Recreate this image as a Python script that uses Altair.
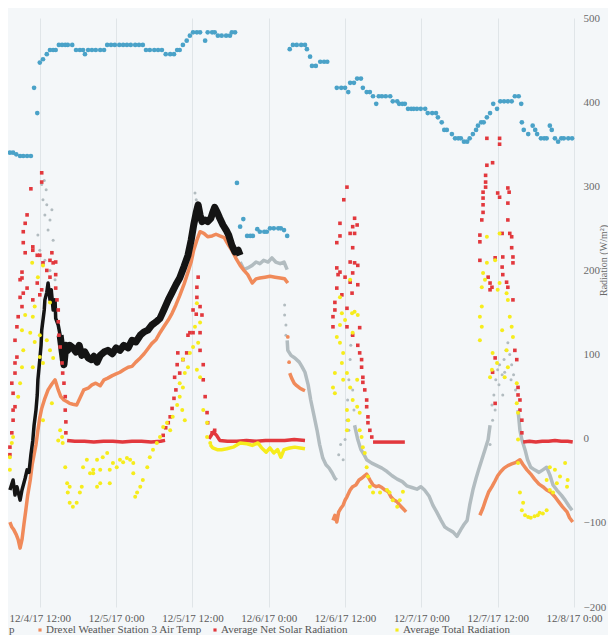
import altair as alt
import pandas as pd

BASE = pd.Timestamp("2017-12-04 00:00:00")

# ---- data: (hours since 12/4/17 0:00, W/m^2 on the right-hand axis) ----
BLUE = [
    (7.3, 340), (7.8, 340), (8.3, 338), (8.9, 336), (9.4, 336), (10.0, 336), (10.6, 336),
    (11.1, 417), (11.6, 387), (12.0, 447), (12.5, 451), (13.1, 457), (13.6, 462), (14.1, 462), (14.5, 462),
    (15.0, 468), (15.5, 468), (16.0, 468), (16.4, 468), (17.1, 468), (17.7, 462), (18.3, 462), (18.8, 462),
    (19.1, 457), (19.6, 462), (20.2, 462), (20.8, 462), (21.5, 462), (22.1, 462), (22.6, 468), (23.2, 468),
    (23.8, 468), (24.5, 468), (25.1, 468), (25.7, 468), (26.3, 468), (27.0, 468), (27.6, 468), (28.2, 468),
    (28.7, 462), (29.3, 462), (30.0, 462), (30.6, 462), (31.2, 462), (31.8, 457), (32.5, 457), (33.1, 457),
    (33.6, 462), (34.0, 462), (34.5, 468), (35.1, 473), (35.6, 479), (36.1, 483), (36.7, 483), (37.2, 483),
    (38.0, 473), (38.4, 483), (39.1, 483), (39.5, 483), (40.0, 479), (40.6, 479), (41.3, 479), (41.9, 479),
    (42.2, 483), (42.7, 483),
    (43.0, 304),
    (43.5, 252), (44.0, 261), (44.6, 241), (45.1, 241), (45.5, 241), (46.2, 249), (46.6, 246), (47.3, 246),
    (47.7, 246), (48.2, 250), (48.8, 250), (49.5, 250), (49.9, 250), (50.4, 248), (50.9, 241),
    (51.3, 463), (51.8, 468), (52.4, 468), (53.1, 468), (53.7, 468), (54.0, 463), (54.5, 454), (54.8, 443),
    (55.4, 443), (56.1, 448), (56.7, 448), (57.2, 448),
    (58.7, 417), (59.4, 417), (60.0, 417), (60.5, 412), (60.8, 423), (61.4, 423), (61.9, 428), (62.5, 428),
    (62.8, 417), (63.4, 412), (63.9, 412), (64.4, 407), (64.9, 398), (65.3, 407), (65.8, 407), (66.4, 407),
    (67.1, 407), (67.5, 401), (68.2, 401), (68.5, 398), (69.0, 398), (69.4, 398), (69.9, 392), (70.4, 392),
    (70.8, 392), (71.3, 392), (71.9, 392), (72.6, 392), (73.0, 387), (73.7, 387), (74.3, 387), (74.6, 382),
    (75.2, 376), (75.6, 367), (76.0, 367), (76.8, 362), (77.3, 357), (77.8, 357), (78.2, 357), (78.7, 353),
    (79.2, 353), (79.6, 357), (80.1, 362), (80.6, 367), (80.9, 372), (81.4, 376), (81.8, 376), (82.3, 382),
    (82.8, 387), (83.3, 398), (83.9, 392), (84.4, 401), (85.0, 401), (85.6, 401), (86.2, 401), (86.7, 407),
    (87.3, 407), (87.7, 398), (87.8, 376), (88.1, 367), (88.8, 362), (89.5, 372), (89.9, 367), (90.2, 362),
    (90.8, 357), (91.3, 357), (91.7, 357), (92.2, 372), (92.5, 367), (93.0, 357), (93.5, 353), (94.0, 357),
    (94.4, 357), (95.1, 357), (95.7, 357),
]

BLACK_RISE = [
    (7.3, -61), (7.8, -49), (8.1, -67), (8.4, -57), (8.9, -73), (9.2, -61), (9.7, -47), (10.0, -37),
    (10.3, -40), (10.6, -19), (10.9, -2), (11.1, 16), (11.4, 34), (11.6, 52), (11.7, 70), (12.0, 94),
    (12.2, 111), (12.3, 129), (12.7, 153), (12.8, 165), (13.1, 174), (13.3, 185), (13.6, 165), (13.8, 177),
    (14.1, 153), (14.4, 165), (14.5, 143), (14.9, 135), (15.2, 123),
]
BLACK_BAND = [
    (15.2, 123), (15.5, 105), (15.8, 88), (16.1, 111), (16.4, 105), (16.7, 111), (17.2, 108), (17.7, 103),
    (18.2, 111), (18.6, 99), (19.1, 103), (19.6, 96), (20.1, 94), (20.5, 98), (21.0, 91), (21.5, 99),
    (22.1, 103), (22.7, 105), (23.4, 101), (24.0, 108), (24.6, 105), (25.2, 111), (25.9, 108), (26.5, 117),
    (27.1, 115), (27.8, 123), (28.4, 127), (29.0, 129), (29.6, 135), (30.3, 139), (30.9, 143), (31.5, 153),
    (32.2, 165), (32.8, 174), (33.4, 183), (34.0, 191), (34.7, 205), (35.3, 218), (35.8, 236), (36.2, 254),
    (36.6, 269), (36.9, 278), (37.2, 266), (37.5, 258), (38.0, 260), (38.4, 258), (38.9, 262), (39.2, 269),
    (39.5, 275), (39.9, 269), (40.3, 262), (40.8, 254), (41.3, 248), (41.7, 242), (42.2, 230), (42.7, 222),
    (43.2, 224), (43.5, 218),
]

ORANGE_SEGMENTS = [
    [(7.3, -99), (7.6, -105), (7.9, -108), (8.3, -114), (8.6, -120), (8.9, -130), (9.2, -120), (9.5, -102),
     (9.8, -85), (10.1, -67), (10.5, -49), (10.8, -31), (11.1, -19), (11.4, -7), (11.7, 10), (12.0, 25),
     (12.3, 36), (12.8, 48), (13.3, 58), (13.9, 65), (14.4, 70), (14.9, 58), (15.3, 50), (15.8, 46),
     (16.3, 44), (16.7, 42), (17.2, 41), (17.8, 40), (18.3, 48), (18.9, 58), (19.6, 60), (20.2, 64),
     (20.8, 66), (21.5, 63), (22.1, 70), (22.7, 72), (23.4, 75), (24.0, 77), (24.6, 79), (25.2, 82),
     (25.9, 85), (26.5, 86), (27.1, 91), (27.8, 96), (28.4, 101), (29.0, 107), (29.6, 113), (30.3, 118),
     (30.9, 126), (31.5, 133), (32.2, 141), (32.8, 149), (33.4, 159), (34.0, 170), (34.7, 184), (35.3, 198),
     (35.8, 210), (36.2, 224), (36.7, 236), (37.2, 246), (37.8, 244), (38.4, 240), (39.1, 241), (39.7, 243),
     (40.3, 241), (41.0, 239), (41.6, 231), (42.2, 224), (42.8, 215), (43.5, 206), (44.1, 200), (44.7, 195),
     (45.4, 185), (46.0, 190), (46.6, 191), (47.4, 192), (48.2, 193), (49.0, 192), (49.8, 191), (50.5, 190),
     (51.0, 185)],
    [(51.3, 78), (51.6, 72), (52.0, 66), (52.4, 63), (52.9, 60), (53.4, 58), (53.7, 57)],
    [(58.1, -97), (58.4, -91), (58.7, -99), (59.0, -87), (59.4, -82), (59.7, -79), (60.0, -73), (60.3, -69),
     (60.8, -61), (61.2, -57), (61.7, -55), (62.2, -49), (62.6, -47), (63.1, -44), (63.4, -42), (63.9, -49),
     (64.4, -55), (64.9, -57), (65.3, -56), (65.8, -58), (66.3, -61), (66.8, -63), (67.2, -69), (67.7, -73),
     (68.2, -75), (68.6, -79), (69.1, -83), (69.6, -87)],
    [(81.2, -91), (81.7, -82), (82.1, -73), (82.6, -63), (83.1, -57), (83.6, -50), (84.0, -44), (84.5, -39),
     (85.0, -35), (85.6, -32), (86.2, -30), (86.9, -28), (87.5, -25), (88.0, -31), (88.6, -37), (89.2, -42),
     (89.8, -48), (90.5, -54), (91.1, -57), (91.7, -61), (92.4, -64), (93.0, -69), (93.6, -75), (94.2, -81),
     (94.9, -87), (95.3, -94), (95.8, -99)],
]
ORANGE_SCATTER = [(51.0, 121), (51.2, 91)]

GRAY_SEGMENTS = [
    [(43.5, 210), (44.1, 201), (44.7, 203), (45.4, 206), (46.0, 210), (46.6, 208), (47.2, 212), (47.9, 210),
     (48.5, 215), (49.1, 210), (49.8, 208), (50.4, 210), (50.9, 201)],
    [(50.9, 117), (51.0, 105), (51.5, 99), (52.1, 96), (52.8, 91), (53.2, 86), (53.7, 79), (54.2, 64),
     (54.6, 46), (55.1, 28), (55.6, 10), (56.0, -7), (56.5, -23), (57.0, -31), (57.5, -35), (58.0, -41),
     (58.4, -47), (58.7, -49)],
    [(61.5, 16), (62.0, -1), (62.5, -13), (63.0, -19), (63.4, -25), (64.2, -29), (65.0, -32), (65.8, -35),
     (66.6, -39), (67.4, -44), (68.2, -48), (69.0, -51), (69.7, -56), (70.5, -58), (71.3, -60), (71.9, -57),
     (72.5, -61), (73.2, -68), (73.8, -79), (74.4, -87), (75.1, -97), (75.7, -105), (76.3, -108), (77.0, -111),
     (77.6, -116), (78.2, -108), (78.7, -102), (79.2, -97), (79.6, -79), (80.1, -61), (80.6, -47), (81.0, -37),
     (81.5, -25), (82.0, -13), (82.5, -1), (82.8, 16)],
    [(87.2, 34), (87.5, 10), (87.8, -1), (88.3, -13), (88.7, -25), (89.2, -34), (89.8, -37), (90.5, -40),
     (91.1, -37), (91.7, -34), (92.2, -43), (92.7, -55), (93.3, -61), (94.0, -67), (94.6, -73), (95.2, -80),
     (95.7, -85)],
]
GRAY_SCATTER = [
    (12.3, 302), (12.7, 307), (13.0, 296), (12.5, 284), (13.1, 278), (12.8, 266), (13.6, 260), (13.9, 272),
    (13.3, 248), (14.1, 236), (12.0, 224), (12.8, 212), (13.6, 200), (14.4, 189), (11.7, 242),
    (36.4, 292), (36.6, 284),
    (50.5, 159), (50.5, 147), (50.7, 135), (50.7, 123),
    (59.0, -19), (59.3, -7), (59.7, -25), (60.0, -1), (60.3, 22), (60.4, 46), (60.6, 70), (60.8, 94),
    (60.9, 111), (61.1, 123), (61.2, 58), (61.4, 34), (60.6, 10),
    (83.1, 40), (83.4, 52), (83.7, 70), (84.0, 82), (84.3, 88), (84.7, 76), (85.0, 94), (85.3, 105),
    (85.6, 114), (85.9, 100), (86.2, 88), (86.5, 76), (86.8, 58), (84.2, 64), (84.8, 52), (83.2, 22),
    (82.8, -7), (83.6, 34), (85.1, 79), (86.1, 70),
]

RED_NIGHT = [
    [(16.3, -2), (17.5, -3), (19.0, -3), (20.5, -4), (22.0, -3), (23.5, -3), (25.0, -4), (26.5, -3),
     (28.0, -3), (29.5, -4), (31.0, -3), (31.7, -2)],
    [(38.6, 0), (39.3, 8), (39.8, 4), (40.3, -2), (41.5, -3), (43.0, -3), (44.5, -2), (46.0, -3),
     (47.5, -2), (49.0, -2), (50.5, -2), (52.0, -1), (53.7, -2)],
    [(64.4, -4), (65.5, -4), (66.8, -4), (68.0, -4), (69.4, -4)],
    [(88.0, -4), (89.0, -3), (90.0, -4), (91.0, -3), (92.0, -3), (93.0, -2), (94.0, -3), (95.0, -3), (95.8, -4)],
]
RED_SCATTER = [
    # 12/4
    (12.3, 316), (12.3, 305), (10.6, 297), (10.0, 266), (9.7, 256), (9.4, 246), (9.4, 233), (10.9, 228),
    (9.7, 221), (10.9, 224), (11.6, 218), (12.0, 218), (13.9, 221), (13.6, 212), (12.5, 209), (14.1, 209),
    (13.1, 200), (9.2, 198), (13.6, 192), (9.2, 191), (8.9, 189), (11.6, 185), (10.0, 179), (12.3, 177),
    (9.4, 173), (12.0, 171), (8.9, 168), (10.9, 165), (9.2, 157), (8.6, 145), (8.4, 133), (8.1, 117),
    (8.4, 97), (8.1, 90), (8.1, 78), (7.6, 66), (7.8, 54), (8.1, 38), (7.8, 34), (7.8, 22), (7.6, 7),
    (7.3, -10), (7.3, -19), (14.5, 210), (14.5, 195), (14.5, 179), (14.7, 165), (14.9, 153), (14.9, 139),
    (15.0, 123), (15.2, 109), (15.5, 90), (15.6, 78), (15.8, 66), (16.0, 50), (16.0, 34), (16.1, 20), (16.1, 7),
    # 12/5
    (31.4, 4), (31.8, 13), (32.2, 19), (32.5, 26), (32.8, 36), (33.1, 48), (33.4, 58), (33.2, 73),
    (33.6, 88), (33.7, 102), (34.0, 78), (34.5, 94), (35.1, 102), (35.3, 123), (35.6, 126), (36.1, 126),
    (36.1, 153), (36.6, 148), (36.7, 168), (36.9, 192), (36.7, 180), (37.2, 157), (37.2, 126), (37.5, 147),
    (37.2, 105), (37.7, 88), (37.7, 70), (38.0, 50), (38.3, 31), (38.4, 19), (39.1, 7), (39.5, 10),
    # 12/6
    (60.3, 299), (59.8, 284), (59.2, 256), (61.5, 262), (61.9, 254), (61.2, 252), (60.8, 244), (59.2, 241),
    (61.5, 244), (58.7, 233), (61.2, 227), (60.8, 210), (61.5, 209), (62.0, 206), (58.7, 203), (59.2, 198),
    (58.9, 195), (60.0, 192), (61.2, 197), (60.8, 186), (62.0, 183), (58.7, 179), (61.1, 173), (59.5, 171),
    (58.4, 162), (60.3, 155), (58.4, 153), (58.1, 145), (60.3, 133), (62.3, 132), (58.1, 133), (61.2, 123),
    (62.0, 111), (62.3, 102), (62.6, 94), (62.6, 85), (62.8, 73), (62.8, 67), (63.1, 58), (63.4, 46),
    (63.4, 38), (63.6, 26), (63.6, 19), (63.9, 10), (64.2, 2),
    # 12/7
    (82.3, 357), (84.3, 357), (84.3, 350), (83.2, 328), (82.3, 325), (82.1, 313), (82.1, 305), (82.1, 299),
    (81.7, 293), (81.7, 286), (81.7, 278), (81.7, 269), (81.5, 260), (81.2, 242), (81.2, 234), (85.6, 298),
    (85.8, 293), (84.0, 292), (84.3, 287), (85.6, 280), (85.6, 260), (85.9, 244), (86.2, 240), (86.2, 227),
    (86.4, 216), (86.4, 209), (84.7, 244), (84.8, 216), (84.7, 204), (81.2, 212), (83.6, 215), (82.5, 192),
    (82.8, 185), (82.8, 177), (83.1, 180), (84.8, 195), (85.4, 186), (85.6, 180), (86.4, 165), (83.6, 96),
    (83.2, 79), (83.6, 42), (86.7, 105), (87.0, 94), (87.2, 61), (87.2, 52), (87.5, 46), (87.5, 34),
    (87.8, 22), (87.8, 7),
]

YELLOW_NIGHT = [
    (38.8, -7), (39.2, -11), (39.9, -13), (40.6, -13), (41.4, -12), (42.4, -10), (43.5, -5), (44.6, -6),
    (45.4, -8), (46.3, -5), (46.9, -11), (47.6, -16), (48.2, -11), (48.8, -17), (49.4, -13), (49.9, -22),
    (50.4, -13), (51.3, -11), (52.1, -10), (52.9, -11), (53.7, -12),
]
YELLOW_SCATTER = [
    # 12/4
    (10.8, 209), (12.5, 206), (11.7, 192), (13.6, 162), (11.2, 157), (9.7, 147), (10.9, 145), (9.2, 129),
    (10.5, 126), (12.0, 123), (13.1, 117), (11.2, 115), (9.4, 105), (13.6, 105), (12.0, 97), (10.9, 85),
    (12.5, 90), (14.1, 96), (9.2, 85), (8.9, 66), (8.6, 50), (13.9, 42), (12.5, 22), (7.8, 2), (7.6, -5),
    (7.3, -22), (7.3, -37),
    (15.2, 10), (15.5, 2), (14.9, -2), (15.6, -5), (16.0, -34), (16.3, -53), (16.4, -64), (16.7, -76),
    (17.2, -81), (17.8, -76), (18.3, -64), (18.6, -57), (18.8, -34), (19.4, -25), (19.9, -41), (20.4, -37),
    (21.0, -25), (21.5, -37), (21.9, -22), (22.6, -17), (16.7, -57), (21.0, -57), (23.0, -37), (23.5, -29),
    (24.1, -34), (24.6, -25), (25.1, -28), (25.7, -23), (26.2, -25), (26.7, -29), (26.7, -41), (27.3, -64),
    (27.8, -57), (28.2, -49), (28.9, -34), (29.3, -22), (29.8, -13), (30.4, -5), (30.9, 2), (31.4, 14),
    (21.5, -53), (23.0, -53), (20.4, -41), (27.0, -69),
    # 12/5
    (32.0, 19), (32.5, 10), (32.9, 26), (33.6, 40), (34.0, 66), (34.5, 61), (34.0, 50), (34.4, 34),
    (34.8, 22), (34.8, 78), (35.3, 85), (34.5, 94), (35.6, 102), (36.1, 109), (36.9, 114), (36.4, 133),
    (36.7, 161), (37.2, 138), (36.7, 82), (37.2, 73), (37.7, 34), (38.3, 19), (38.3, 2), (38.8, -5),
    # 12/6
    (60.8, 189), (59.2, 168), (59.5, 149), (61.5, 151), (62.0, 147), (58.7, 121), (61.2, 126), (59.2, 114),
    (59.7, 102), (59.5, 90), (60.3, 78), (58.4, 78), (59.7, 70), (58.1, 61), (58.4, 54), (60.8, 61),
    (61.9, 70), (61.2, 46), (60.3, 34), (61.9, 38), (60.5, 22), (62.3, 31), (60.3, 10), (62.3, 10),
    (62.6, 2), (62.8, -10), (63.1, -17), (63.4, -34), (63.6, -45), (63.9, -57), (64.4, -64), (65.5, -64),
    (66.6, -61), (67.0, -64), (67.5, -73), (68.2, -81), (68.6, -73), (69.1, -63), (60.0, 141), (61.1, 149),
    (59.2, 135),
    # 12/7
    (82.3, 240), (84.3, 244), (83.6, 212), (82.3, 209), (81.7, 197), (82.0, 189), (81.5, 180), (84.3, 185),
    (84.0, 177), (81.5, 157), (81.2, 145), (81.5, 133), (81.2, 117), (84.7, 129), (85.4, 173), (85.6, 165),
    (85.9, 145), (86.2, 133), (86.4, 121), (83.2, 102), (83.9, 90), (83.1, 82), (82.8, 73), (85.4, 105),
    (85.6, 85), (85.1, 73), (87.0, 66), (87.0, 42), (87.2, 31), (87.2, -1), (87.2, -29), (87.5, -64),
    (87.8, -85), (88.0, -76), (88.3, -91), (88.8, -93), (89.2, -94), (89.8, -92), (90.3, -91), (90.6, -88),
    (91.1, -89), (91.7, -85), (91.7, -49), (92.2, -34), (92.2, -61), (92.7, -64), (93.0, -37), (93.3, -53),
    (93.8, -45), (94.6, -29), (94.9, -57), (95.0, -49),
]

TICK_TIMES = [(4, 12), (5, 0), (5, 12), (6, 0), (6, 12), (7, 0), (7, 12), (8, 0)]
Y_TICKS = [-200, -100, 0, 100, 200, 300, 400, 500]
LEGEND_LABELS = ["p", "Drexel Weather Station 3 Air Temp", "Average Net Solar Radiation", "Average Total Radiation"]

C_BLUE = "#4aa2c8"
C_BLACK = "#141414"
C_GRAY = "#b2bcc0"
C_ORANGE = "#f08a5a"
C_RED = "#e2383d"
C_YELLOW = "#f6ec1c"
FONT = "Liberation Serif"


def frame(points, seg=0):
    return pd.DataFrame({
        "time": BASE + pd.to_timedelta([p[0] for p in points], unit="h"),
        "value": [p[1] for p in points],
        "seg": seg,
    })


def segments(list_of_segments):
    return pd.concat([frame(s, i) for i, s in enumerate(list_of_segments)], ignore_index=True)


X = alt.X(
    "time:T",
    scale=alt.Scale(domain=[alt.DateTime(year=2017, month=12, date=4, hours=7),
                            alt.DateTime(year=2017, month=12, date=8, hours=0)], nice=False),
    axis=alt.Axis(
        values=[alt.DateTime(year=2017, month=12, date=d, hours=h) for d, h in TICK_TIMES],
        format="%-m/%-d/%y %-H:%M", title="", grid=True, gridColor="#e0e5e8", gridWidth=1,
        domain=False, ticks=False, labelPadding=5, labelFont=FONT, labelFontSize=11,
        labelColor="#5a5a5a", labelOverlap=False, labelFlush=False,
    ),
)
Y = alt.Y(
    "value:Q",
    scale=alt.Scale(domain=[-200, 500], nice=False, zero=False),
    axis=alt.Axis(
        orient="right", values=Y_TICKS, grid=False, domain=False, ticks=False, labelPadding=9,
        labelFont=FONT, labelFontSize=11, labelColor="#6a6a6a",
        title="Radiation (W/m²)", titleFont=FONT, titleFontSize=10, titleFontWeight="normal",
        titleColor="#6a6a6a", titleAngle=270, titleX=29, titleY=242, titleAlign="center",
        titleBaseline="middle",
    ),
)


def line_layer(df, color, width):
    return alt.Chart(df).mark_line(color=color, strokeWidth=width, strokeJoin="round").encode(
        x=X, y=Y, detail="seg:N")


gray_lines = line_layer(segments(GRAY_SEGMENTS), C_GRAY, 3.5)
gray_pts = alt.Chart(frame(GRAY_SCATTER)).mark_circle(color=C_GRAY, size=9, opacity=1).encode(x=X, y=Y)
orange_lines = line_layer(segments(ORANGE_SEGMENTS), C_ORANGE, 3.5)
orange_pts = alt.Chart(frame(ORANGE_SCATTER)).mark_circle(color=C_ORANGE, size=14, opacity=1).encode(x=X, y=Y)
black_rise = line_layer(frame(BLACK_RISE), C_BLACK, 3.5)
black_band = line_layer(frame(BLACK_BAND), C_BLACK, 7)
red_night = line_layer(segments(RED_NIGHT), C_RED, 3.5)
yellow_night = line_layer(frame(YELLOW_NIGHT), C_YELLOW, 3.5)
red_pts = alt.Chart(frame(RED_SCATTER)).mark_square(color=C_RED, size=13, opacity=1).encode(x=X, y=Y)
yellow_pts = alt.Chart(frame(YELLOW_SCATTER)).mark_circle(color=C_YELLOW, size=16, opacity=1).encode(x=X, y=Y)
blue_pts = alt.Chart(frame(BLUE)).mark_circle(color=C_BLUE, size=22, opacity=1).encode(x=X, y=Y)

LEG_Y = 612


def leg_text(label, px):
    return alt.Chart(pd.DataFrame({"label": [label]})).mark_text(
        align="left", baseline="middle", font=FONT, fontSize=11, color="#555555"
    ).encode(x=alt.value(px), y=alt.value(LEG_Y), text="label:N")


def leg_mark(color, px):
    return alt.Chart(pd.DataFrame({"k": [0]})).mark_square(color=color, size=10, opacity=1).encode(
        x=alt.value(px), y=alt.value(LEG_Y))


legend = [
    leg_text(LEGEND_LABELS[0], 1),
    leg_mark(C_ORANGE, 32), leg_text(LEGEND_LABELS[1], 38),
    leg_mark(C_RED, 207), leg_text(LEGEND_LABELS[2], 213),
    leg_mark(C_YELLOW, 389), leg_text(LEGEND_LABELS[3], 395),
]

chart = alt.layer(
    gray_lines, gray_pts, orange_lines, orange_pts, black_rise, black_band,
    red_night, yellow_night, red_pts, yellow_pts, blue_pts, *legend
).properties(
    width=566, height=589,
    autosize=alt.AutoSizeParams(type="none"),
    padding={"left": 0, "top": 10, "right": 34, "bottom": 28},
    background="#f4f7f9",
).configure_view(strokeWidth=0)

chart.save("out.html", embed_options={"renderer": "svg", "actions": False})
